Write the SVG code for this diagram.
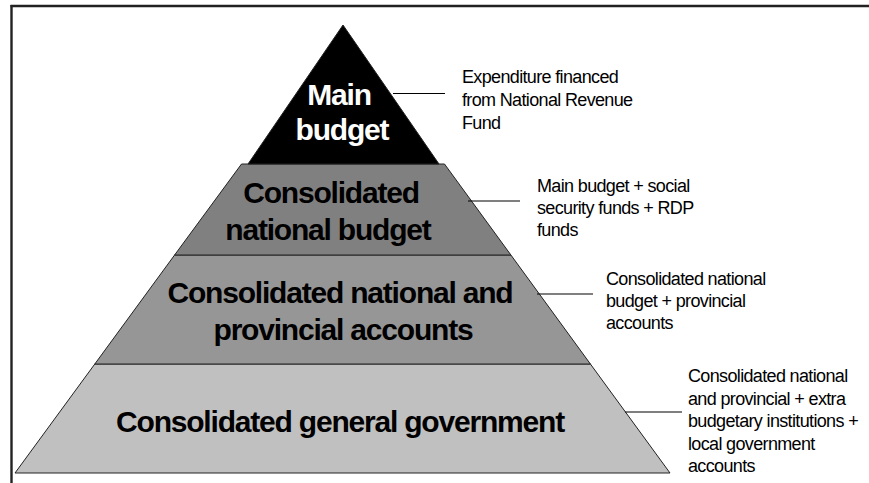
<svg xmlns="http://www.w3.org/2000/svg" width="869" height="483" viewBox="0 0 869 483">
<style>
.band{stroke:#222;stroke-width:1}
.big{font-family:"Liberation Sans",Arial,sans-serif;font-weight:bold;font-size:30px;text-anchor:middle;letter-spacing:-1.2px}
.note{font-family:"Liberation Sans",Arial,sans-serif;font-size:18px;letter-spacing:-0.65px;fill:#000}
.conn line{stroke:#000;stroke-width:1.2}
</style>
<rect width="869" height="483" fill="#fff"/>
<g id="frame" fill="none" stroke="#222" stroke-width="2.4">
<line x1="10.5" y1="6" x2="869" y2="6"/>
<line x1="11.5" y1="5" x2="11.5" y2="483"/>
</g>
<g id="level4">
<polygon class="band" points="94.8,364 590.4,364 670,473 15,473" fill="#c0c0c0"/>
<text class="big" x="340" y="432" fill="#000">Consolidated general government</text>
</g>
<g id="level3">
<polygon class="band" points="174.6,255 510.9,255 590.4,364 94.8,364" fill="#969696"/>
<text class="big" x="340" y="303" fill="#000">Consolidated national and</text>
<text class="big" x="343" y="340" fill="#000">provincial accounts</text>
</g>
<g id="level2">
<polygon class="band" points="241.5,164 444.5,164 510.9,255 174.6,255" fill="#808080"/>
<text class="big" x="331" y="203" fill="#000">Consolidated</text>
<text class="big" x="328" y="240" fill="#000">national budget</text>
</g>
<g id="level1">
<polygon class="band" points="343,25 439,164 248,164" fill="#000"/>
<text class="big" x="339" y="105" fill="#fff">Main</text>
<text class="big" x="342" y="140" fill="#fff">budget</text>
</g>
<g id="connectors" class="conn">
<line x1="393" y1="93.5" x2="445" y2="93.5"/>
<line x1="468" y1="201" x2="520" y2="201"/>
<line x1="537" y1="294" x2="593" y2="294"/>
<line x1="625" y1="412" x2="682" y2="412"/>
</g>
<g id="note1">
<text class="note" x="462" y="83">Expenditure financed</text>
<text class="note" x="462" y="106">from National Revenue</text>
<text class="note" x="462" y="129">Fund</text>
</g>
<g id="note2">
<text class="note" x="537" y="192">Main budget + social</text>
<text class="note" x="537" y="214">security funds + RDP</text>
<text class="note" x="537" y="236">funds</text>
</g>
<g id="note3">
<text class="note" x="606" y="285">Consolidated national</text>
<text class="note" x="606" y="307">budget + provincial</text>
<text class="note" x="606" y="329">accounts</text>
</g>
<g id="note4">
<text class="note" x="688" y="382">Consolidated national</text>
<text class="note" x="688" y="404.5">and provincial + extra</text>
<text class="note" x="688" y="427">budgetary institutions +</text>
<text class="note" x="688" y="449.5">local government</text>
<text class="note" x="688" y="472">accounts</text>
</g>
</svg>
